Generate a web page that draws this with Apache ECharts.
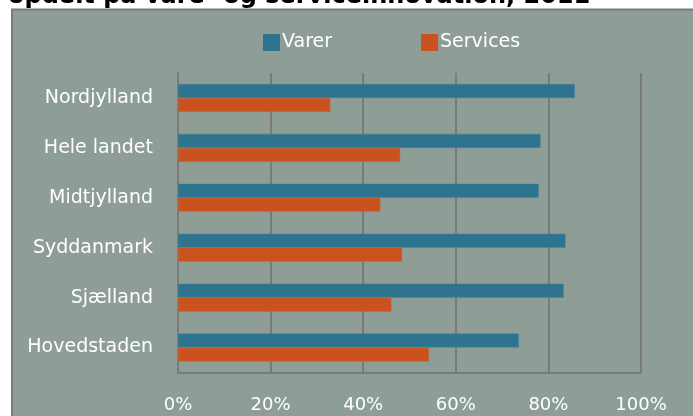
<!DOCTYPE html>
<html>
<head>
<meta charset="utf-8">
<script src="https://cdn.jsdelivr.net/npm/echarts@6/dist/echarts.min.js"></script>
<style>
  html, body { margin: 0; padding: 0; background: #fff; }
  #main { width: 693px; height: 416px; }
</style>
</head>
<body>
<div id="main"></div>
<script>
// regioner, oppefra og ned
var regions = ["Nordjylland", "Hele landet", "Midtjylland", "Syddanmark", "Sjælland", "Hovedstaden"];
// andel i procent
var varer = [85.7, 78.3, 77.9, 83.7, 83.3, 73.6];
var services = [32.9, 48.0, 43.7, 48.4, 46.1, 54.2];
var xTicks = [0, 20, 40, 60, 80, 100];

var labelFont = "DejaVu Sans";
var chart = echarts.init(document.getElementById("main"));

chart.setOption({
  animation: false,
  backgroundColor: "#ffffff",
  graphic: [
    {
      type: "rect",
      z: -10,
      shape: { x: 12, y: 9.5, width: 700, height: 420 },
      style: { fill: "#8e9e96", stroke: "#7b7b7b", lineWidth: 2 }
    },
    {
      type: "text",
      left: 8,
      top: -15,
      style: {
        text: "opdelt på vare- og serviceinnovation, 2011",
        fill: "#000",
        font: "bold 24px 'DejaVu Sans'"
      }
    }
  ],
  legend: {
    left: 263,
    top: 33,
    padding: 0,
    itemWidth: 17,
    itemHeight: 17,
    itemGap: 89,
    icon: "rect",
    itemStyle: { borderWidth: 0 },
    textStyle: { color: "#fff", fontSize: 19, fontFamily: labelFont, padding: [0, 0, 0, -3] },
    data: ["Varer", "Services"]
  },
  grid: { left: 178, right: 52, top: 73, bottom: 43.5 },
  xAxis: {
    type: "value",
    min: 0,
    max: 100,
    interval: 20,
    axisLine: { show: true, lineStyle: { color: "#7a7a7a", width: 2 } },
    axisTick: { show: false },
    splitLine: { show: true, lineStyle: { color: "#7a7a7a", width: 2 } },
    axisLabel: {
      color: "#fff",
      fontSize: 18,
      fontFamily: labelFont,
      margin: 24,
      formatter: function (v) { return xTicks.indexOf(v) >= 0 ? v + "%" : ""; }
    }
  },
  yAxis: {
    type: "category",
    inverse: true,
    data: regions,
    axisLine: { show: true, lineStyle: { color: "#7a7a7a", width: 2 } },
    axisTick: { show: false },
    axisLabel: { color: "#fff", fontSize: 19, fontFamily: labelFont, margin: 25 }
  },
  series: [
    {
      name: "Varer",
      type: "bar",
      data: varer,
      barWidth: 14,
      barGap: "0%",
      itemStyle: { color: "#2e748e", borderColor: "#4a8297", borderWidth: 0.5 }
    },
    {
      name: "Services",
      type: "bar",
      data: services,
      barWidth: 14,
      barGap: "0%",
      itemStyle: { color: "#c9521f", borderColor: "#c96a45", borderWidth: 0.5 }
    }
  ]
});
</script>
</body>
</html>
